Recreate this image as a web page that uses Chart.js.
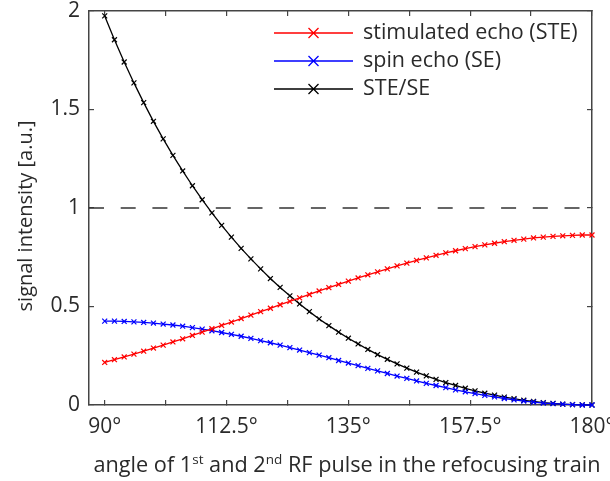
<!DOCTYPE html>
<html>
<head>
<meta charset="utf-8">
<script src="https://cdn.jsdelivr.net/npm/chart.js@4"></script>
<style>
  html, body { margin: 0; padding: 0; background: #fff; }
  #wrap { width: 610px; height: 481px; }
</style>
</head>
<body>
<div id="wrap"><canvas id="chart" width="610" height="481"></canvas></div>
<script>
// refocusing angles (deg)
const angles = [90, 91.8, 93.6, 95.4, 97.2, 99, 100.8, 102.6, 104.4, 106.2, 108, 109.8, 111.6, 113.4, 115.2, 117, 118.8, 120.6, 122.4, 124.2, 126, 127.8, 129.6, 131.4, 133.2, 135, 136.8, 138.6, 140.4, 142.2, 144, 145.8, 147.6, 149.4, 151.2, 153, 154.8, 156.6, 158.4, 160.2, 162, 163.8, 165.6, 167.4, 169.2, 171, 172.8, 174.6, 176.4, 178.2, 180];

const steValues = [0.216, 0.230, 0.244, 0.258, 0.273, 0.289, 0.304, 0.320, 0.336, 0.353, 0.370, 0.387, 0.404, 0.421, 0.439, 0.456, 0.474, 0.491, 0.509, 0.526, 0.544, 0.561, 0.579, 0.596, 0.612, 0.629, 0.645, 0.661, 0.676, 0.691, 0.706, 0.720, 0.734, 0.747, 0.760, 0.772, 0.783, 0.794, 0.804, 0.813, 0.821, 0.829, 0.836, 0.842, 0.848, 0.852, 0.856, 0.859, 0.861, 0.863, 0.863];

const seValues = [0.426, 0.426, 0.424, 0.422, 0.419, 0.416, 0.411, 0.406, 0.400, 0.393, 0.385, 0.377, 0.368, 0.359, 0.349, 0.338, 0.327, 0.316, 0.304, 0.291, 0.279, 0.266, 0.253, 0.240, 0.226, 0.213, 0.200, 0.186, 0.173, 0.160, 0.147, 0.135, 0.122, 0.110, 0.099, 0.088, 0.077, 0.067, 0.058, 0.049, 0.041, 0.033, 0.026, 0.020, 0.015, 0.010, 0.007, 0.004, 0.002, 0.000, 0];

const ratioValues = [1.975, 1.854, 1.741, 1.635, 1.535, 1.440, 1.351, 1.267, 1.188, 1.113, 1.042, 0.975, 0.912, 0.852, 0.795, 0.742, 0.691, 0.642, 0.597, 0.554, 0.513, 0.474, 0.437, 0.403, 0.370, 0.339, 0.310, 0.282, 0.256, 0.232, 0.209, 0.187, 0.167, 0.148, 0.130, 0.114, 0.099, 0.085, 0.072, 0.060, 0.050, 0.040, 0.032, 0.024, 0.018, 0.012, 0.008, 0.004, 0.002, 0.001, 0];

const seriesNames = ['stimulated echo (STE)', 'spin echo (SE)', 'STE/SE'];
const seriesColors = ['#ff0000', '#0000ff', '#000000'];

const xLimits = [87.1, 180];
const yLimits = [0, 2];
const xTicks = [90, 101.25, 112.5, 123.75, 135, 146.25, 157.5, 168.75, 180];
const xTickLabels = ['90°', '', '112.5°', '', '135°', '', '157.5°', '', '180°'];
const yTicks = [0, 0.5, 1, 1.5, 2];
const yTickLabels = ['0', '0.5', '1', '1.5', '2'];
const refLevel = 1;
const yTitle = 'signal intensity [a.u.]';

const TEXT = '#2a2a2a';
const AXIS = '#444';
const FONT = 'Open Sans';

Chart.defaults.font.family = FONT;
Chart.defaults.color = TEXT;

function pts(ys) {
    return angles.map((a, i) => ({ x: a, y: ys[i] }));
}

function series(i, ys) {
    return {
        label: seriesNames[i],
        data: pts(ys),
        borderColor: seriesColors[i],
        backgroundColor: seriesColors[i],
        borderWidth: 1.3,
        pointStyle: 'crossRot',
        pointRadius: 3.5,
        pointBorderWidth: 1.2,
        pointHoverRadius: 3.5,
        tension: 0,
        clip: false
    };
}

// no extra room for edge labels: keep the axes box fixed
function fitX(h) {
    return s => { s.height = h; s.paddingLeft = 0; s.paddingRight = 0; };
}
function fitY(w) {
    return s => { s.width = w; s.paddingTop = 0; s.paddingBottom = 0; };
}

// legend drawn inside the axes, top right
const insideLegend = {
    id: 'insideLegend',
    afterDatasetsDraw(chart) {
        const ctx = chart.ctx;
        const x0 = 274, x1 = 353, tx = 363;
        const rows = [33, 61, 89];
        ctx.save();
        seriesNames.forEach((name, i) => {
            const y = rows[i];
            const mx = (x0 + x1) / 2;
            ctx.strokeStyle = seriesColors[i];
            ctx.lineWidth = 1.3;
            ctx.beginPath();
            ctx.moveTo(x0, y);
            ctx.lineTo(x1, y);
            ctx.moveTo(mx - 5, y - 5);
            ctx.lineTo(mx + 5, y + 5);
            ctx.moveTo(mx - 5, y + 5);
            ctx.lineTo(mx + 5, y - 5);
            ctx.stroke();
            ctx.fillStyle = TEXT;
            ctx.font = '21.5px "' + FONT + '"';
            ctx.textAlign = 'left';
            ctx.textBaseline = 'middle';
            ctx.fillText(name, tx, y);
        });
        ctx.restore();
    }
};

// axis titles (x one has superscripts)
const axisTitles = {
    id: 'axisTitles',
    afterDraw(chart) {
        const ctx = chart.ctx;
        const parts = [
            { t: 'angle of 1' }, { t: 'st', sup: true },
            { t: ' and 2' }, { t: 'nd', sup: true },
            { t: ' RF pulse in the refocusing train' }
        ];
        const big = '21.7px "' + FONT + '"';
        const small = '13.5px "' + FONT + '"';
        ctx.save();
        let total = 0;
        parts.forEach(p => {
            ctx.font = p.sup ? small : big;
            p.w = ctx.measureText(p.t).width;
            total += p.w;
        });
        let x = 347 - total / 2;
        const base = 472;
        ctx.fillStyle = TEXT;
        ctx.textAlign = 'left';
        ctx.textBaseline = 'alphabetic';
        parts.forEach(p => {
            ctx.font = p.sup ? small : big;
            ctx.fillText(p.t, x, p.sup ? base - 8 : base);
            x += p.w;
        });

        ctx.translate(32, 216);
        ctx.rotate(-Math.PI / 2);
        ctx.font = '20px "' + FONT + '"';
        ctx.textAlign = 'center';
        ctx.fillText(yTitle, 0, 0);
        ctx.restore();
    }
};

const gridOpts = { drawOnChartArea: false, tickLength: -5, color: AXIS, lineWidth: 1.2 };
const borderOpts = { color: AXIS, width: 1.5 };

new Chart(document.getElementById('chart').getContext('2d'), {
    type: 'line',
    data: {
        datasets: [
            {
                label: 'reference',
                data: [{ x: xLimits[0], y: refLevel }, { x: xLimits[1], y: refLevel }],
                borderColor: '#333',
                borderWidth: 1.5,
                borderDash: [15, 16.7],
                pointRadius: 0
            },
            series(0, steValues),
            series(1, seValues),
            series(2, ratioValues)
        ]
    },
    options: {
        responsive: false,
        animation: false,
        devicePixelRatio: 1,
        layout: { padding: 0 },
        plugins: { legend: { display: false }, tooltip: { enabled: false } },
        scales: {
            x: {
                type: 'linear', position: 'bottom', min: xLimits[0], max: xLimits[1],
                afterBuildTicks: s => { s.ticks = xTicks.map(v => ({ value: v })); },
                afterFit: fitX(76),
                ticks: {
                    autoSkip: false, maxRotation: 0, padding: 14,
                    font: { size: 21 }, color: TEXT,
                    callback: (v, i) => xTickLabels[i]
                },
                grid: gridOpts, border: borderOpts
            },
            x2: {
                type: 'linear', axis: 'x', position: 'top', min: xLimits[0], max: xLimits[1],
                afterBuildTicks: s => { s.ticks = xTicks.map(v => ({ value: v })); },
                afterFit: fitX(11),
                ticks: { display: false },
                grid: gridOpts, border: borderOpts
            },
            y: {
                type: 'linear', position: 'left', min: yLimits[0], max: yLimits[1],
                afterBuildTicks: s => { s.ticks = yTicks.map(v => ({ value: v })); },
                afterFit: fitY(89),
                ticks: {
                    padding: 14, font: { size: 21 }, color: TEXT,
                    callback: (v, i) => yTickLabels[i]
                },
                grid: gridOpts, border: borderOpts
            },
            y2: {
                type: 'linear', axis: 'y', position: 'right', min: yLimits[0], max: yLimits[1],
                afterBuildTicks: s => { s.ticks = yTicks.map(v => ({ value: v })); },
                afterFit: fitY(18),
                ticks: { display: false },
                grid: gridOpts, border: borderOpts
            }
        }
    },
    plugins: [insideLegend, axisTitles]
});
</script>
</body>
</html>
